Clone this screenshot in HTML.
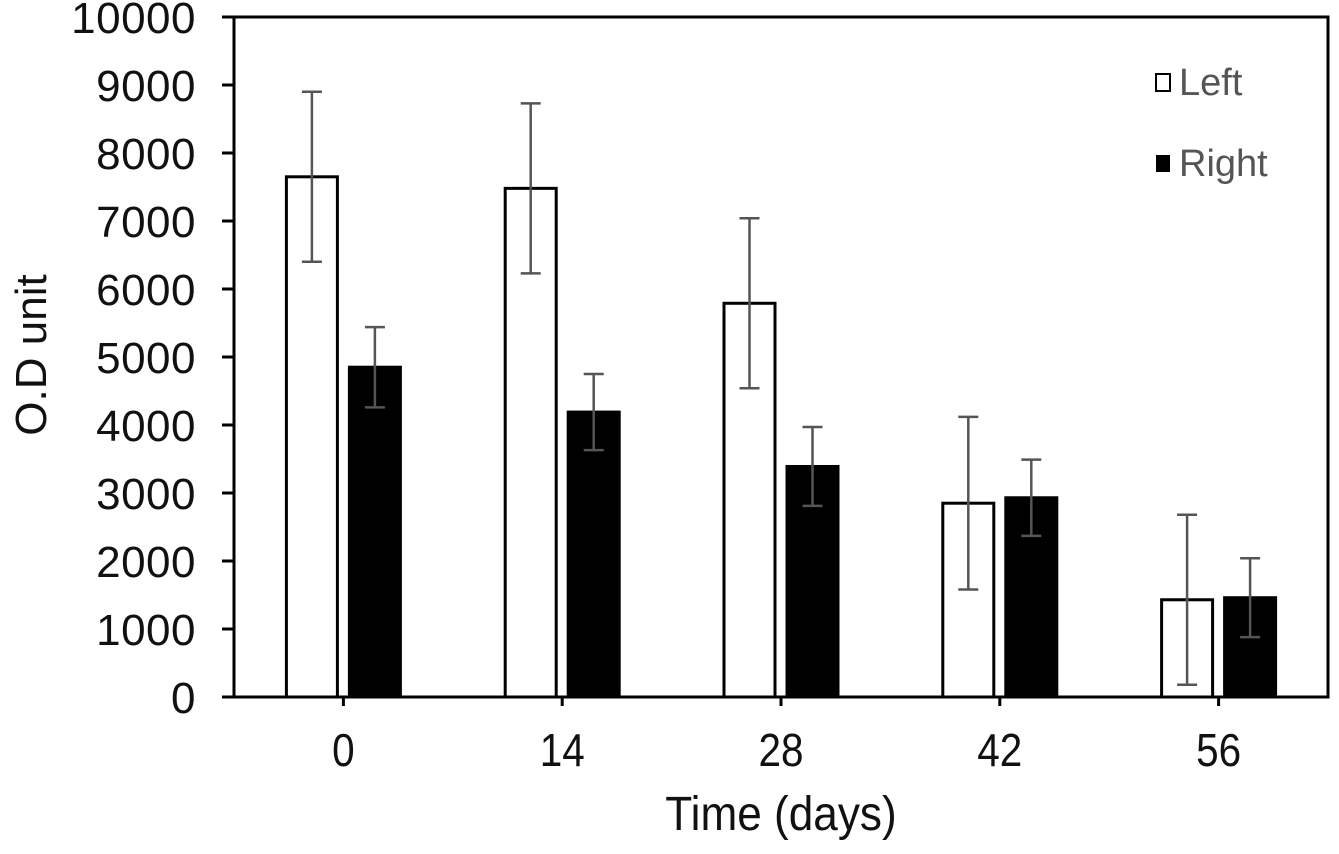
<!DOCTYPE html>
<html><head><meta charset="utf-8"><style>
body{margin:0;background:#fff}
svg text{font-family:"Liberation Sans",sans-serif}
</style></head><body>
<svg id="chart" width="1339" height="849">
<rect x="234" y="17" width="1094" height="680" fill="#fff" stroke="#000" stroke-width="3"/>
<g id="yaxis"></g>
<g id="xaxis"></g>
<g id="bars"></g>
<text x="0" y="0" font-size="44" text-anchor="middle" transform="translate(46 355) rotate(-90)" fill="#111">O.D unit</text>
<text x="0" y="0" font-size="48" text-anchor="middle" transform="translate(781 830) scale(0.92 1)" fill="#111">Time (days)</text>
<g>
<g><rect x="1156" y="74" width="14" height="17" fill="#fff" stroke="#000" stroke-width="2"/><text x="1179" y="95" font-size="38" fill="#555">Left</text></g>
<g><rect x="1156" y="155" width="14" height="17" fill="#000"/><text x="1179" y="176" font-size="38" fill="#555">Right</text></g>
</g>
</svg>
<script>
const categories=["0","14","28","42","56"];
const leftValues=[7650,7480,5790,2850,1430];
const leftErrors=[1250,1250,1250,1270,1250];
const rightValues=[4850,4190,3390,2930,1460];
const rightErrors=[590,560,580,560,580];
const yTicks=[0,1000,2000,3000,4000,5000,6000,7000,8000,9000,10000];

const NS="http://www.w3.org/2000/svg";
const x0=234,x1=1328,yTop=17,yBot=697,yMax=10000;
const y=v=>yBot-(v/yMax)*(yBot-yTop);
const band=(x1-x0)/categories.length;
const cx=i=>x0+band*(i+0.5);
function mk(tag,attrs,parent){const e=document.createElementNS(NS,tag);for(const k in attrs)e.setAttribute(k,attrs[k]);parent.appendChild(e);return e;}
const ya=document.getElementById('yaxis'),xa=document.getElementById('xaxis'),bg=document.getElementById('bars');
yTicks.forEach(t=>{
  const l=mk('line',{x1:x0-12,x2:x0,y1:y(t),y2:y(t),stroke:'#000','stroke-width':3},ya);
  
  
  const tx=mk('text',{x:196,y:y(t)+16,'font-size':44,'text-anchor':'end',fill:'#111','letter-spacing':'0.5'},ya);
  tx.textContent=t;
  
  
});
categories.forEach((c,i)=>{
  const l=mk('line',{x1:cx(i),x2:cx(i),y1:yBot,y2:yBot+9,stroke:'#000','stroke-width':3},xa);
  
  
  const tx=mk('text',{x:0,y:0,'font-size':46,'text-anchor':'middle',fill:'#111',transform:'translate('+cx(i)+' 766) scale(0.88 1)'},xa);
  tx.textContent=c;
  
  
});
function drawBar(i,v,e,left){
  const bx=left?cx(i)-57:cx(i)+6, w=51;
  const r=mk('rect',{x:bx,y:y(v),width:w,height:yBot-y(v),fill:left?'#fff':'#000',stroke:'#000','stroke-width':3},bg);
  
  
  const m=bx+w/2;
  const g=mk('g',{stroke:'#555','stroke-width':2.5},bg);
  
  
  mk('line',{x1:m,x2:m,y1:y(v+e),y2:y(v-e)},g);
  mk('line',{x1:m-10,x2:m+10,y1:y(v+e),y2:y(v+e)},g);
  mk('line',{x1:m-10,x2:m+10,y1:y(v-e),y2:y(v-e)},g);
}
categories.forEach((c,i)=>{drawBar(i,leftValues[i],leftErrors[i],true);drawBar(i,rightValues[i],rightErrors[i],false);});
</script>
</body></html>
